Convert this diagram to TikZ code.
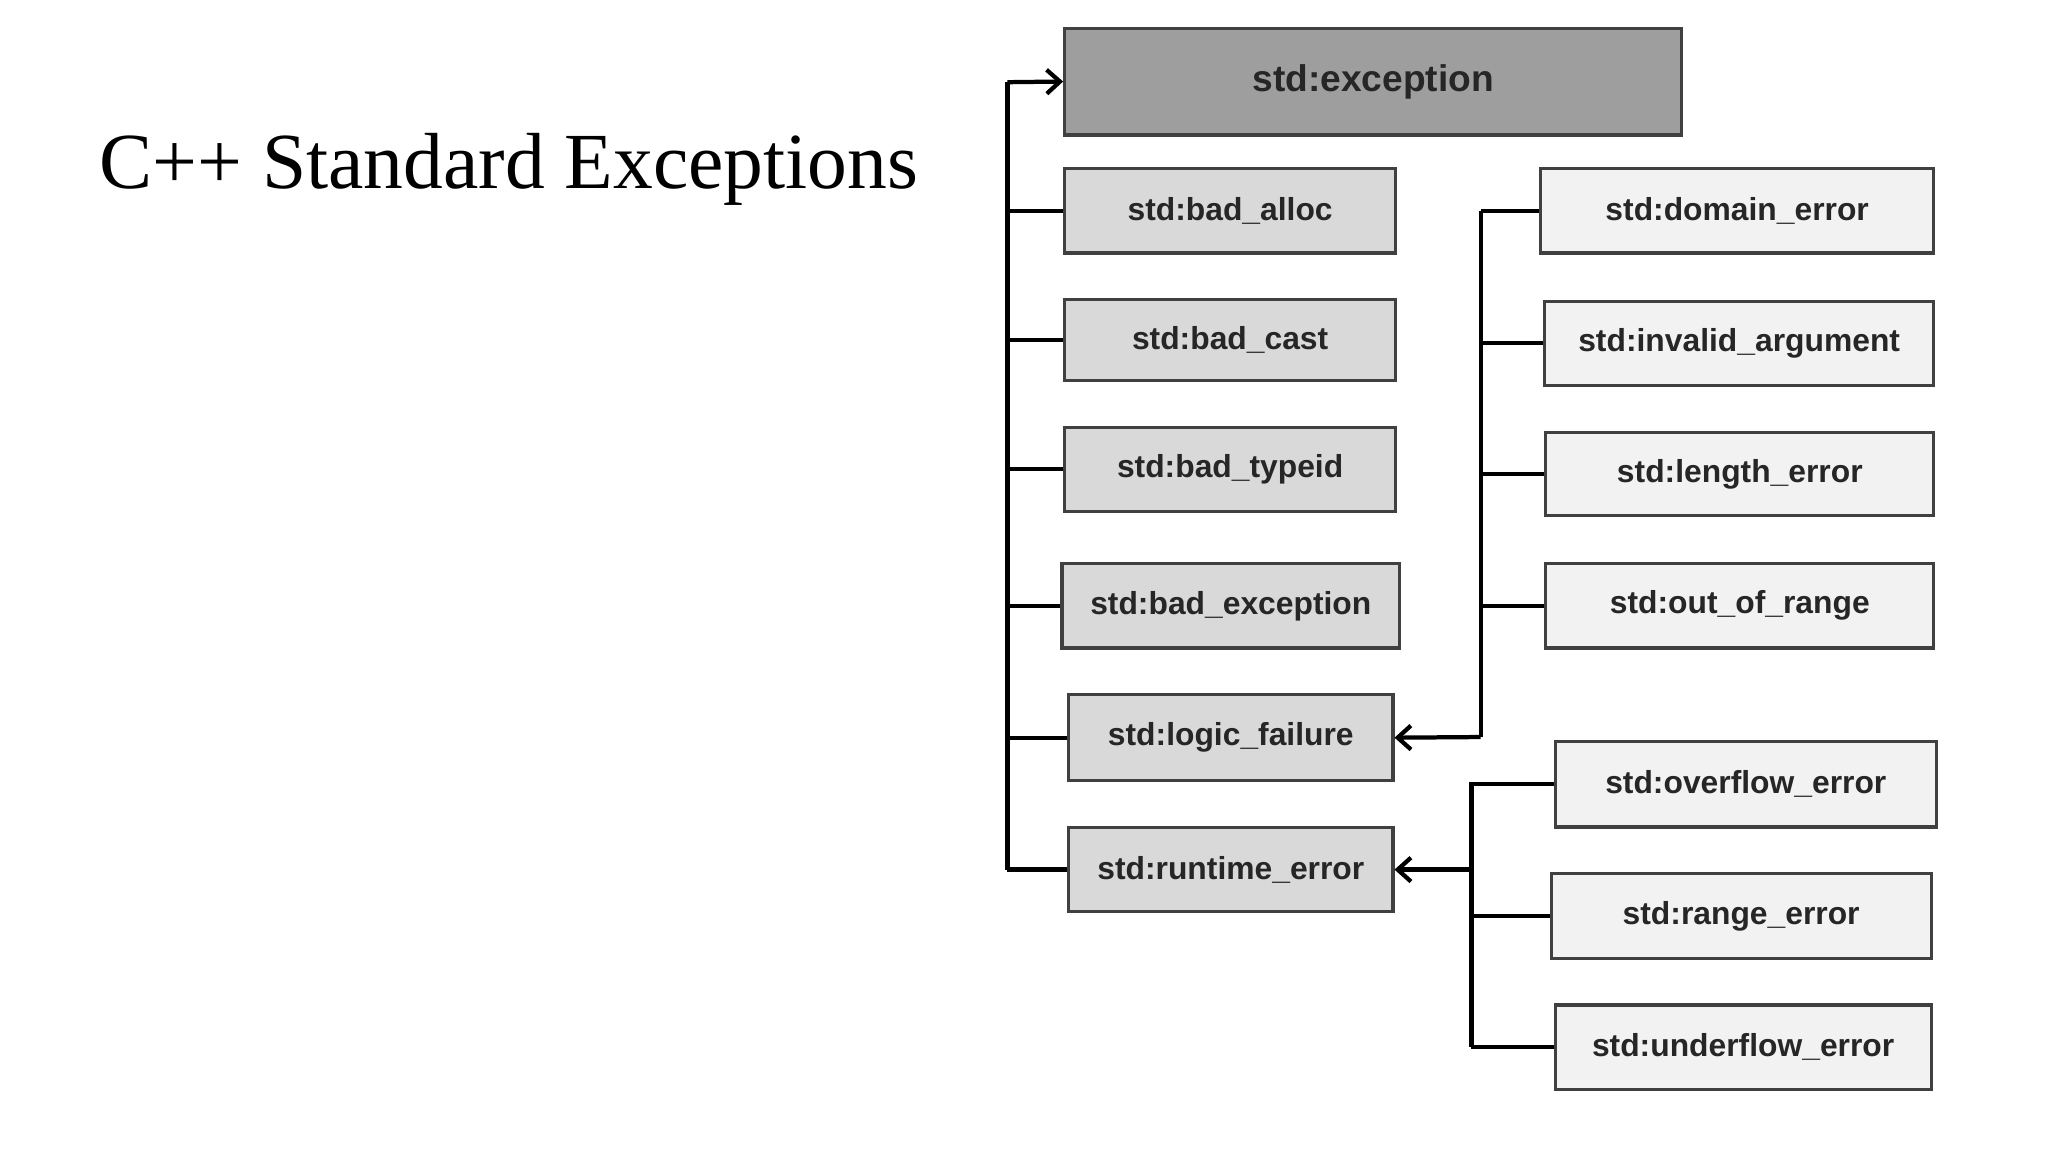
\documentclass[tikz,border=0pt]{standalone}
\usepackage{fontspec}
\setmainfont{Liberation Serif}
\newfontfamily\boxfont{Liberation Sans}
\usetikzlibrary{arrows.meta}
\begin{document}
\begin{tikzpicture}[x=0.5pt,y=-0.5pt,
  bx/.style={draw=black!75,line width=1.2pt,inner sep=0pt,font=\boxfont\bfseries\fontsize{12}{14}\selectfont,text=black!85},
  lg/.style={bx,fill=black!15},
  wg/.style={bx,fill=black!5},
  ln/.style={line width=1.6pt,black},
  ar/.style={ln,-{Straight Barb[length=5pt,width=9pt,line width=1.6pt]}}]
\useasboundingbox (0,0) rectangle (1545,869);
\node[anchor=west,font=\fontsize{30}{34}\selectfont] (title) at (68,128) {C++ Standard Exceptions};
\newcommand{\bx}[7]{\node[#1,minimum width={(#4-#3)*0.5pt-1.2pt},minimum height={(#6-#5)*0.5pt-1.2pt}] (#2) at ({(#3+#4)/2},{(#5+#6)/2}) {#7};}
\bx{bx,fill=black!38,font=\boxfont\bfseries\fontsize{14}{16}\selectfont}{exc}{802}{1270}{20}{103}{std:exception}
\bx{lg}{ba}{802}{1054}{126}{192}{std:bad\_alloc}
\bx{lg}{bc}{802}{1054}{225}{288}{std:bad\_cast}
\bx{lg}{bt}{802}{1054}{321}{387}{std:bad\_typeid}
\bx{lg}{be}{800}{1057}{424}{490}{std:bad\_exception}
\bx{lg}{lf}{805}{1052}{523}{590}{std:logic\_failure}
\bx{lg}{re}{805}{1052}{623}{689}{std:runtime\_error}
\bx{wg}{de}{1161}{1460}{126}{192}{std:domain\_error}
\bx{wg}{ia}{1164}{1460}{226}{292}{std:invalid\_argument}
\bx{wg}{le}{1165}{1460}{325}{390}{std:length\_error}
\bx{wg}{oor}{1165}{1460}{424}{490}{std:out\_of\_range}
\bx{wg}{ov}{1172}{1462}{558}{625}{std:overflow\_error}
\bx{wg}{rg}{1169}{1458}{658}{724}{std:range\_error}
\bx{wg}{uf}{1172}{1458}{757}{823}{std:underflow\_error}
% left trunk
\coordinate (t0) at (760,62);
\coordinate (t1) at (760,656);
\draw[ln] (t1) -- (t0);
\draw[ar] (t0) -- (exc.west);
\foreach \n in {ba,bc,bt,be,lf,re}{\draw[ln] (760,0 |- \n.west) -- (\n.west);}
% logic bus
\draw[ln] (1117,159) -- (1117,556);
\foreach \n in {de,ia,le,oor}{\draw[ln] (1117,0 |- \n.west) -- (\n.west);}
\draw[ar] (1117,556) -- (lf.east);
% runtime bus
\draw[ln] (1110,590) -- (1110,790);
\foreach \n in {ov,rg,uf}{\draw[ln] (1110,0 |- \n.west) -- (\n.west);}
\draw[ar] (1110,656) -- (re.east);
\end{tikzpicture}
\end{document}
